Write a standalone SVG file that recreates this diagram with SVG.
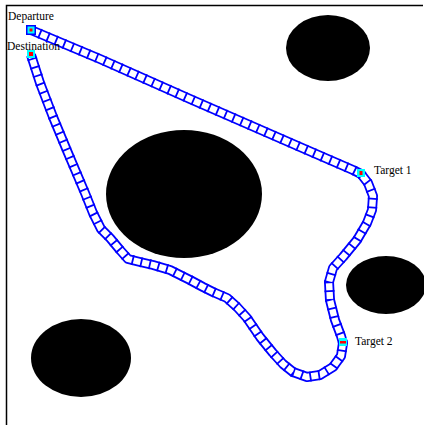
<svg xmlns="http://www.w3.org/2000/svg" width="424" height="425" viewBox="0 0 424 425">
<style>
.obs{fill:#000}
.frame{stroke:#000;stroke-width:1.5;fill:none}
.rail{fill:none;stroke:#0000ff;stroke-width:10;stroke-linejoin:round}
.inner{fill:none;stroke:#fff;stroke-width:6.4;stroke-linejoin:round}
.rung{fill:none;stroke:#0000ff;stroke-width:10;stroke-dasharray:1.8 7;stroke-linejoin:round}
.mk{fill:#00ffff}
.mc{fill:#ff0000}
.lbl{font-family:"Liberation Serif","Times New Roman",serif;font-size:11.5px;fill:#000}
</style>
<defs>
<polyline id="traj" points="31,30 100,59 190,99 300,147 353,170 361,174 368,183 373,196 372,210 367,223 357,240 343,257 333,268 329,282 330,300 335,320 341,336 343,343 341,356 333,367 320,375 307,377 293,372 283,364 273,353 260,337 247,318 237,307 227,298 213,292 203,287 190,280 170,270 153,265 140,262 128,259 120,250 110,238 101,229 93,213 85,193 68,153 53,117 40,83 31,55"/>
</defs>
<rect width="424" height="425" fill="#fff"/>
<g id="frame">
<path class="frame" d="M6.5,425 V5.5 H423"/>
</g>
<g id="obstacles">
<ellipse id="obstacle1" class="obs" cx="328" cy="48" rx="42" ry="33"/>
<ellipse id="obstacle2" class="obs" cx="184" cy="194" rx="78" ry="64"/>
<ellipse id="obstacle3" class="obs" cx="386" cy="285" rx="40" ry="29"/>
<ellipse id="obstacle4" class="obs" cx="81" cy="358" rx="50" ry="39"/>
</g>
<g id="connectors">
<use href="#traj" class="rail"/>
<use href="#traj" class="inner"/>
<use href="#traj" class="rung"/>
</g>
<g id="departure">
<rect x="26" y="25" width="10" height="10" fill="#0000ff"/>
<rect class="mk" x="27.5" y="26.5" width="7" height="7"/>
<rect class="mc" x="29.5" y="28.5" width="3" height="3"/>
<text class="lbl" x="8" y="20">Departure</text>
</g>
<g id="destination">
<rect class="mk" x="27" y="50" width="8" height="8"/>
<rect class="mc" x="29" y="52" width="4" height="4"/>
<text class="lbl" x="7" y="50">Destination</text>
</g>
<g id="target1">
<rect class="mk" x="357" y="169" width="8" height="8"/>
<rect class="mc" x="359.5" y="171" width="3" height="4"/>
<text class="lbl" x="374" y="174">Target 1</text>
</g>
<g id="target2">
<rect class="mk" x="339" y="338" width="8" height="8"/>
<rect class="mc" x="340" y="341" width="6" height="2.5"/>
<text class="lbl" x="355" y="345">Target 2</text>
</g>
</svg>
